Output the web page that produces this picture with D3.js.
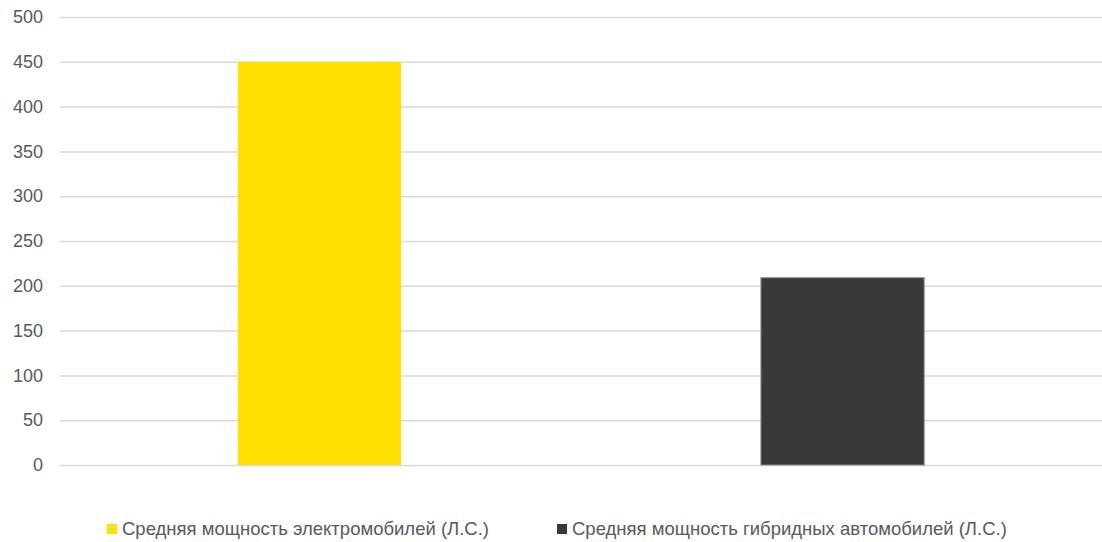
<!DOCTYPE html>
<html><head><meta charset="utf-8">
<script src="https://cdn.jsdelivr.net/npm/d3@7"></script>
<style>body{margin:0;background:#fff;} svg{display:block;font-family:"Liberation Sans",Arial,sans-serif;}</style>
</head><body><svg id="c" width="1102" height="542"></svg>
<script>
const series = ["Средняя мощность электромобилей (Л.С.)", "Средняя мощность гибридных автомобилей (Л.С.)"];
const values = [450, 209];
const colors = ["#FFE000", "#393939"];
const yTicks = [0, 50, 100, 150, 200, 250, 300, 350, 400, 450, 500];

(function () {
const svg = d3.select("#c");
const mLeft = 60, mRight = 1102, mTop = 17, mBottom = 465;
const y = d3.scaleLinear().domain([0, 500]).range([mBottom, mTop]);
const x = d3.scaleBand().domain(series).range([mLeft, mRight]).paddingInner(0.688).paddingOuter(0.34);

const yAxis = svg.append("g").attr("transform", `translate(${mLeft},0)`)
  .call(d3.axisLeft(y).tickValues(yTicks).tickSize(-(mRight - mLeft)).tickPadding(17));
yAxis.select(".domain").remove();
yAxis.attr("font-size", null).attr("font-family", null);
yAxis.selectAll(".tick line").attr("stroke", "#d9d9d9").attr("stroke-width", 1.5);
yAxis.selectAll(".tick text").attr("fill", "#595959").style("font-size", "18px").style("font-family", "'Liberation Sans', Arial, sans-serif");

svg.append("g").selectAll("rect").data(series).join("rect")
  .attr("x", d => x(d)).attr("width", x.bandwidth())
  .attr("y", (d, i) => y(values[i])).attr("height", (d, i) => y(0) - y(values[i]))
  .attr("fill", (d, i) => colors[i])
  .attr("stroke", (d, i) => i === 1 ? "#8a8a8a" : "none").attr("stroke-width", 1);

const legendX = [107, 557];
const lg = svg.append("g").selectAll("g").data(series).join("g")
  .attr("transform", (d, i) => `translate(${legendX[i]},0)`);
lg.append("rect").attr("x", 0).attr("y", 524).attr("width", 10).attr("height", 10).attr("fill", (d, i) => colors[i]);
lg.append("text").attr("x", 15).attr("y", 535).style("font-size", "18.5px").attr("fill", "#595959").text(d => d);
})();
</script></body></html>
